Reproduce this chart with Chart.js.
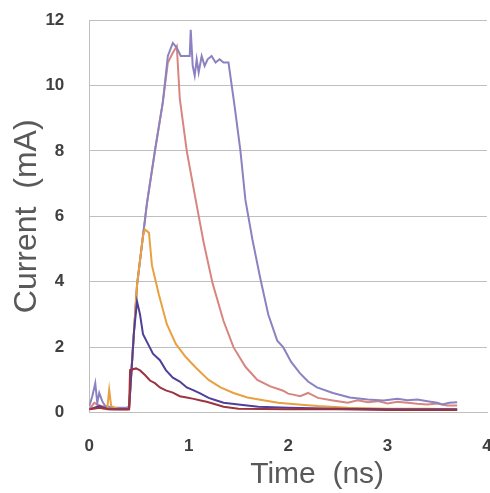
<!DOCTYPE html>
<html>
<head>
<meta charset="UTF-8">
<title>Current vs Time</title>
<script src="https://cdn.jsdelivr.net/npm/chart.js"></script>
<style>
  html, body { margin: 0; padding: 0; background: #fff; overflow: hidden; }
  #wrap { width: 492px; height: 493px; }
</style>
</head>
<body>
<div id="wrap"><canvas id="myChart" width="492" height="493"></canvas></div>
<script>
// time (ns) and current (mA), one pair of arrays per trace
const timeLavender = [0, 0.03, 0.06, 0.08, 0.10, 0.13, 0.16, 0.25, 0.38, 0.40, 0.48, 0.58, 0.66, 0.74, 0.79, 0.84, 0.88, 0.92, 0.97, 1.01, 1.02, 1.04, 1.06, 1.08, 1.10, 1.13, 1.16, 1.19, 1.23, 1.27, 1.31, 1.35, 1.40, 1.46, 1.52, 1.57, 1.64, 1.72, 1.80, 1.89, 1.95, 2.03, 2.12, 2.20, 2.29, 2.45, 2.62, 2.80, 2.96, 3.10, 3.20, 3.30, 3.40, 3.50, 3.55, 3.62, 3.70];
const currentLavender = [0.2, 0.5, 0.9, 0.3, 0.6, 0.35, 0.2, 0.15, 0.15, 0.2, 3.9, 6.4, 8.0, 9.5, 10.9, 11.3, 11.15, 10.9, 10.9, 10.9, 11.7, 10.6, 10.3, 10.8, 10.4, 10.9, 10.6, 10.8, 10.9, 10.7, 10.8, 10.7, 10.7, 9.4, 8.0, 6.5, 5.3, 4.1, 3.0, 2.2, 2.0, 1.55, 1.2, 0.95, 0.77, 0.6, 0.46, 0.4, 0.37, 0.42, 0.38, 0.4, 0.35, 0.3, 0.25, 0.3, 0.32];

const timeSalmon = [0, 0.05, 0.12, 0.25, 0.38, 0.40, 0.48, 0.58, 0.66, 0.74, 0.79, 0.84, 0.88, 0.91, 0.98, 1.07, 1.15, 1.24, 1.35, 1.45, 1.57, 1.69, 1.82, 1.90, 1.95, 2.00, 2.05, 2.12, 2.20, 2.30, 2.45, 2.60, 2.70, 2.80, 2.90, 3.00, 3.10, 3.20, 3.30, 3.40, 3.50, 3.60, 3.70];
const currentSalmon = [0.1, 0.3, 0.2, 0.1, 0.1, 0.15, 3.9, 6.4, 8.0, 9.5, 10.7, 11.0, 11.2, 9.6, 8.0, 6.5, 5.2, 3.95, 2.8, 2.0, 1.4, 1.0, 0.8, 0.72, 0.67, 0.58, 0.55, 0.5, 0.6, 0.45, 0.37, 0.3, 0.38, 0.32, 0.35, 0.28, 0.33, 0.3, 0.27, 0.25, 0.28, 0.22, 0.22];

const timeOrange = [0, 0.10, 0.18, 0.20, 0.22, 0.30, 0.38, 0.40, 0.48, 0.54, 0.56, 0.60, 0.63, 0.70, 0.78, 0.87, 0.97, 1.08, 1.20, 1.32, 1.45, 1.59, 1.75, 1.90, 2.10, 2.30, 2.60, 3.00, 3.40, 3.70];
const currentOrange = [0.1, 0.15, 0.1, 0.7, 0.2, 0.1, 0.1, 0.15, 3.9, 5.4, 5.6, 5.5, 4.5, 3.6, 2.7, 2.1, 1.7, 1.35, 1.0, 0.77, 0.6, 0.46, 0.38, 0.3, 0.25, 0.2, 0.15, 0.12, 0.12, 0.1];

const timeBlue = [0, 0.10, 0.20, 0.30, 0.40, 0.45, 0.48, 0.51, 0.54, 0.59, 0.64, 0.71, 0.77, 0.84, 0.91, 0.98, 1.05, 1.12, 1.20, 1.28, 1.35, 1.50, 1.70, 2.00, 2.50, 3.00, 3.70];
const currentBlue = [0.1, 0.2, 0.1, 0.1, 0.1, 2.5, 3.4, 3.0, 2.4, 2.1, 1.8, 1.6, 1.3, 1.07, 0.95, 0.77, 0.68, 0.58, 0.45, 0.37, 0.3, 0.25, 0.18, 0.15, 0.12, 0.1, 0.1];

const timeRed = [0, 0.10, 0.20, 0.30, 0.40, 0.41, 0.47, 0.51, 0.56, 0.61, 0.66, 0.71, 0.77, 0.84, 0.91, 0.98, 1.05, 1.12, 1.18, 1.25, 1.35, 1.50, 2.00, 2.50, 3.00, 3.70];
const currentRed = [0.1, 0.15, 0.1, 0.1, 0.1, 1.3, 1.35, 1.29, 1.15, 0.98, 0.9, 0.77, 0.68, 0.61, 0.5, 0.46, 0.42, 0.37, 0.33, 0.27, 0.18, 0.12, 0.1, 0.1, 0.08, 0.08];

const xTicks = [0, 1, 2, 3, 4];
const yTicks = [0, 2, 4, 6, 8, 10, 12];

function toPoints(ts, vs) {
  return ts.map((t, i) => ({ x: t, y: vs[i] }));
}

function trace(ts, vs, color) {
  return {
    data: toPoints(ts, vs),
    borderColor: color,
    borderWidth: 2,
    pointRadius: 0,
    tension: 0,
    fill: false
  };
}

// x-axis title sits right of the plot centre in the original
const xTitlePlugin = {
  id: 'xTitle',
  afterDraw(chart) {
    const a = chart.chartArea;
    const ctx = chart.ctx;
    ctx.save();
    ctx.font = '30px "Liberation Sans", Arial, sans-serif';
    ctx.fillStyle = '#595959';
    ctx.textAlign = 'center';
    ctx.textBaseline = 'alphabetic';
    ctx.fillText('Time  (ns)', (a.left + a.right) / 2 + 29, 483);
    ctx.restore();
  }
};

const tickFont = { family: '"Liberation Sans", Arial, sans-serif', size: 17, weight: 'bold' };

const ctx = document.getElementById('myChart').getContext('2d');
new Chart(ctx, {
  type: 'line',
  data: {
    datasets: [
      trace(timeRed, currentRed, '#9c3340'),
      trace(timeBlue, currentBlue, '#4f3f99'),
      trace(timeOrange, currentOrange, '#e8a040'),
      trace(timeLavender, currentLavender, '#8b82c2'),
      trace(timeSalmon, currentSalmon, '#d8857f')
    ]
  },
  options: {
    responsive: false,
    animation: false,
    layout: { padding: { top: 0, bottom: 12, left: 2, right: 0 } },
    plugins: { legend: { display: false }, tooltip: { enabled: false } },
    scales: {
      x: {
        type: 'linear',
        min: 0,
        max: 4,
        afterBuildTicks: axis => { axis.ticks = xTicks.map(v => ({ value: v })); },
        // the "4" label runs off the right edge, as in the original
        afterFit: axis => { axis.paddingRight = 5; },
        grid: { display: false, drawTicks: false },
        border: { display: true, color: '#bfbfbf' },
        ticks: { padding: 24, color: '#404040', font: tickFont }
      },
      y: {
        min: 0,
        max: 12,
        afterBuildTicks: axis => { axis.ticks = yTicks.map(v => ({ value: v })); },
        afterFit: axis => { axis.paddingTop = 20; },
        grid: { color: '#bfbfbf', drawTicks: false },
        border: { display: true, color: '#bfbfbf' },
        ticks: { padding: 25, color: '#404040', font: tickFont },
        title: {
          display: true,
          text: 'Current  (mA)',
          color: '#595959',
          padding: { top: 6, bottom: -26 },
          font: { family: '"Liberation Sans", Arial, sans-serif', size: 32 }
        }
      }
    }
  },
  plugins: [xTitlePlugin]
});
</script>
</body>
</html>
